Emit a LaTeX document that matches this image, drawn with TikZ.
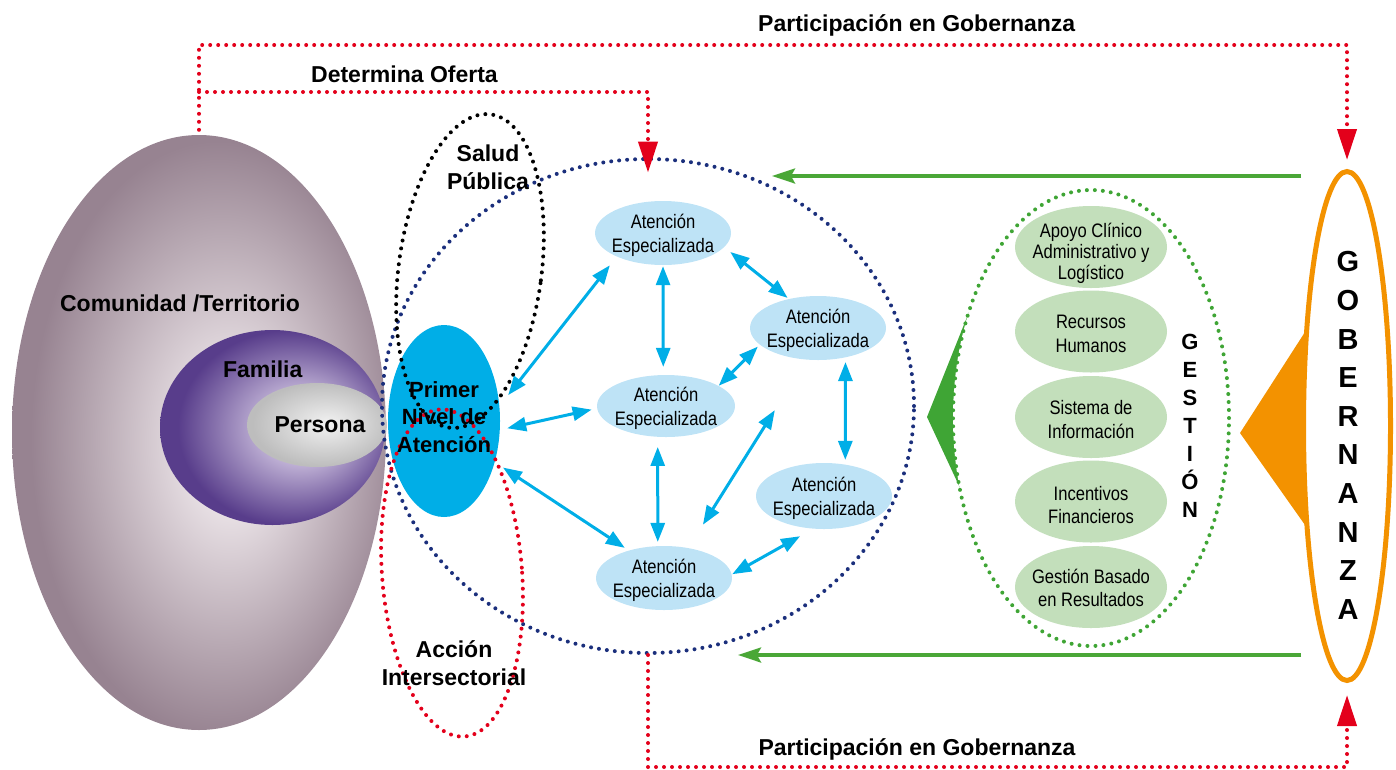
\documentclass[tikz,border=0pt]{standalone}
\usepackage{fontspec}
\setmainfont{Liberation Sans}
\newfontfamily\narrowsans[FakeStretch=0.85]{Liberation Sans}
\usetikzlibrary{arrows.meta,shapes.geometric,positioning,calc}

\definecolor{comin}{HTML}{F4EEF1}
\definecolor{comout}{HTML}{978391}
\definecolor{famin}{HTML}{E2D8EE}
\definecolor{famout}{HTML}{583D8B}
\definecolor{perin}{HTML}{F2F2F2}
\definecolor{perout}{HTML}{BDBDBD}
\definecolor{primcyan}{HTML}{00AEE7}
\definecolor{aeblue}{HTML}{BEE3F6}
\definecolor{gestgreen}{HTML}{C3DFBB}
\definecolor{navydot}{HTML}{1B2F7C}
\definecolor{reddot}{HTML}{E3001B}
\definecolor{greenline}{HTML}{4AA737}
\definecolor{greentri}{HTML}{3FA535}
\definecolor{orangegob}{HTML}{F39200}

\pgfdeclareradialshading{comshade}{\pgfpoint{5bp}{-1bp}}{color(0bp)=(comin); color(3bp)=(comin); color(25bp)=(comout); color(50bp)=(comout)}
\pgfdeclareradialshading{famshade}{\pgfpoint{8bp}{0bp}}{color(0bp)=(famin); color(4bp)=(famin); color(25bp)=(famout); color(50bp)=(famout)}
\pgfdeclareradialshading{pershade}{\pgfpoint{4bp}{1bp}}{color(0bp)=(perin); color(25bp)=(perout); color(50bp)=(perout)}

\tikzstyle{blob} = [ellipse, inner sep=0pt]
\tikzstyle{aeshape} = [ellipse, fill=aeblue, inner sep=0pt, minimum width=136pt, minimum height=64pt]
\tikzstyle{gshape} = [ellipse, fill=gestgreen, inner sep=0pt, minimum width=152pt, minimum height=82pt]
\tikzstyle{dotline} = [line width=4pt, line cap=round, dash pattern=on 0pt off 8pt]
\tikzstyle{lbl} = [font=\bfseries\fontsize{23}{28}\selectfont, align=center, inner sep=0pt]
\tikzstyle{aetext} = [font=\narrowsans\fontsize{19.5}{24.5}\selectfont, align=center, inner sep=0pt]
\tikzstyle{twoway} = [draw=primcyan, line width=3pt, {Triangle[length=19pt,width=14pt]}-{Triangle[length=19pt,width=14pt]}]
\tikzstyle{redarrow} = [draw=reddot, dotline, -{Triangle[length=31pt,width=19pt]}]
\tikzstyle{greenarrow} = [draw=greenline, line width=3.5pt, -{Stealth[length=23pt,width=15pt,inset=4pt]}]

\begin{document}
\begin{tikzpicture}[x=1pt, y=-1pt]
    \useasboundingbox (0,0) rectangle (1396,769);

    \node[blob, shading=comshade, minimum width=374pt, minimum height=595pt] (com) at (199,432.5) {};
    \node[blob, shading=famshade, minimum width=225pt, minimum height=195pt] (fam) at (272.5,427.5) {};
    \node[blob, shading=pershade, minimum width=140pt, minimum height=84pt] (per) at (317,425) {};
    \node[blob, fill=primcyan, minimum width=112pt, minimum height=192pt] (pna) at (444,421) {};

    \node[blob, draw=navydot, dotline, minimum width=532pt, minimum height=494pt] (circ) at (648,406) {};
    \node[blob, draw=black, dotline, minimum width=143pt, minimum height=316pt, rotate=-7.5] (salud) at (470,271) {};
    \node[blob, draw=reddot, dotline, minimum width=140pt, minimum height=328pt, rotate=4.4] (accion) at (452,573) {};

    \node[lbl, anchor=base] (comt) at (180,311.7) {Comunidad /Territorio};
    \node[lbl, anchor=base] (famt) at (262.7,377.7) {Familia};
    \node[lbl, anchor=base] (pert) at (320,432.3) {Persona};
    \node[lbl, font=\bfseries\fontsize{22}{27.5}\selectfont] (pnat) at (444,417) {Primer\\Nivel de\\Atención};
    \node[lbl] (saludt) at (488,167.6) {Salud\\Pública};
    \node[lbl] (acciont) at (454,663) {Acción\\Intersectorial};

    \node[aeshape] (ae1) at (663,233) {};
    \node[aeshape] (ae2) at (818,328) {};
    \node[aeshape, minimum width=138pt, minimum height=62pt] (ae3) at (666,406) {};
    \node[aeshape, minimum height=66pt] (ae4) at (824,496) {};
    \node[aeshape] (ae5) at (664,578) {};
    \node[aetext] (aet1) at (663,235.5) {Atención\\Especializada};
    \node[aetext] (aet2) at (818,330.5) {Atención\\Especializada};
    \node[aetext] (aet3) at (666,408.5) {Atención\\Especializada};
    \node[aetext] (aet4) at (824,498.5) {Atención\\Especializada};
    \node[aetext] (aet5) at (664,580.5) {Atención\\Especializada};

    \draw[twoway, shorten <=14pt, shorten >=11pt] (pna.15) -- (ae1.207);
    \draw[twoway, shorten <=7.4pt, shorten >=5.5pt] (pna.351) -- (ae3.182);
    \draw[twoway, shorten <=9.8pt, shorten >=4.7pt] (pna.321) -- (ae5.142);
    \draw[twoway, shorten <=1pt, shorten >=8pt] (ae1.270) -- (ae3.95);
    \draw[twoway, shorten <=7.7pt, shorten >=1.6pt] (ae1.347) -- (ae2.135);
    \draw[twoway, shorten >=2.7pt] (ae3.21) -- (ae2.196);
    \draw[twoway, shorten <=4.6pt, shorten >=4.6pt] (ae2.313) -- (ae4.56);
    \draw[twoway, shorten <=10pt, shorten >=4pt] (ae3.255) -- (ae5.101);
    \draw[twoway, shorten <=27.4pt, shorten >=59.5pt] (ae5.51) -- (ae2.250);
    \draw[twoway, shorten <=0.5pt, shorten >=15.2pt] (ae5.3) -- (ae4.252);

    \fill[greentri] (927,417) -- (969,312) -- (961,490) -- cycle;
    \node[blob, draw=greentri, fill=white, dotline, minimum width=276pt, minimum height=456pt] (gest) at (1091,418) {};
    \node[gshape] (g1) at (1091,247) {};
    \node[gshape] (g2) at (1091,331.5) {};
    \node[gshape] (g3) at (1091,417) {};
    \node[gshape] (g4) at (1091,501.5) {};
    \node[gshape] (g5) at (1091,587) {};
    \node[aetext, font=\narrowsans\fontsize{19.5}{21}\selectfont] (gt1) at (1091,253) {Apoyo Clínico\\Administrativo y\\Logístico};
    \node[aetext, font=\narrowsans\fontsize{19.5}{24}\selectfont] (gt2) at (1091,333.5) {Recursos\\Humanos};
    \node[aetext, font=\narrowsans\fontsize{19.5}{24}\selectfont] (gt3) at (1091,420) {Sistema de\\Información};
    \node[aetext, font=\narrowsans\fontsize{19.5}{23.5}\selectfont] (gt4) at (1091,505) {Incentivos\\Financieros};
    \node[aetext, font=\narrowsans\fontsize{19.5}{23.5}\selectfont] (gt5) at (1091,588) {Gestión Basado\\en Resultados};
    \node[lbl, font=\bfseries\fontsize{22}{28.05}\selectfont] (gestt) at (1190,426) {G\\E\\S\\T\\I\\Ó\\N};

    \fill[orangegob] (1240,433) -- (1305,332) -- (1305,525) -- cycle;
    \node[blob, draw=orangegob, fill=white, line width=5pt, minimum width=87pt, minimum height=509pt] (gob) at (1347,426) {};
    \node[lbl, font=\bfseries\fontsize{29}{38.6}\selectfont] (gobt) at (1348,435.5) {G\\O\\B\\E\\R\\N\\A\\N\\Z\\A};

    \coordinate (gp1) at (1347,45);
    \coordinate (gp2) at (1347,767);
    \coordinate (dof) at (199,92);
    \coordinate (gtop) at (772,176);
    \coordinate (gbot) at (738,655);
    \draw[redarrow, shorten <=5pt, shorten >=9pt] (com.north) |- (gp1) -- (gob.north);
    \draw[redarrow, shorten >=-15.6pt] (dof) -| (circ.north);
    \draw[redarrow, shorten >=12pt] (circ.south) |- (gp2) -- (gob.south);
    \draw[greenarrow] (gob.west |- gtop) -- (gtop);
    \draw[greenarrow] (gob.west |- gbot) -- (gbot);

    \node[lbl, anchor=base] (pgtop) at (916.7,31) {Participación en Gobernanza};
    \node[lbl, anchor=base] (pgbot) at (917,755) {Participación en Gobernanza};
    \node[lbl, anchor=base] (doft) at (404.5,82) {Determina Oferta};
\end{tikzpicture}
\end{document}
